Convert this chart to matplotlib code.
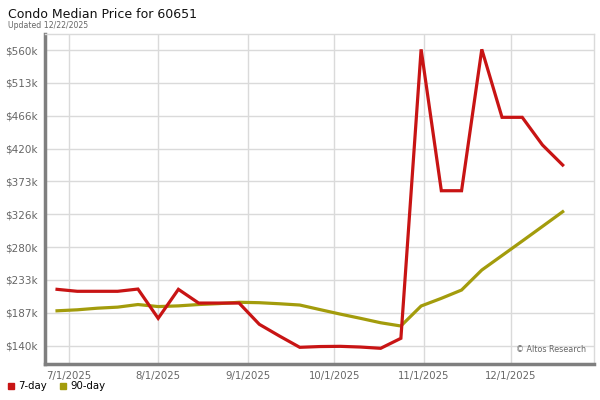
import pandas as pd
import numpy as np
import matplotlib
matplotlib.use('Agg')
import matplotlib.pyplot as plt
import matplotlib.dates as mdates

# weekly points (values in $k)
dates = pd.date_range('2025-06-27', '2025-12-19', freq='7D')
price_7day = [220.0, 217.2, 217.2, 217.2, 220.4, 178.8, 220.0, 200.5, 200.5, 200.5,
              170.3, 153.6, 137.6, 138.7, 139.0, 138.0, 136.2, 150.4, 561.0, 360.1,
              360.1, 561.0, 464.4, 464.4, 425.1, 396.6]
price_90day = [189.5, 190.9, 193.2, 194.7, 198.4, 195.5, 196.5, 198.4, 199.7, 201.6,
               201.0, 199.5, 197.7, 191.2, 184.8, 178.8, 172.5, 167.9, 196.3, 207.2,
               219.0, 247.4, 268.0, 288.6, 309.4, 330.3]

y_ticks = [140, 186.67, 233.33, 280, 326.67, 373.33, 420, 466.67, 513.33, 560]
y_labels = ['$140k', '$187k', '$233k', '$280k', '$326k', '$373k', '$420k', '$466k', '$513k', '$560k']
x_ticks = pd.to_datetime(['2025-07-01', '2025-08-01', '2025-09-01', '2025-10-01', '2025-11-01', '2025-12-01'])
x_labels = ['7/1/2025', '8/1/2025', '9/1/2025', '10/1/2025', '11/1/2025', '12/1/2025']

red = '#c81414'
olive = '#a39c0c'
axis_gray = '#7f7f7f'
text_gray = '#666666'

fig = plt.figure(figsize=(6, 4), dpi=100)
ax = fig.add_axes([0.075, 0.09, 0.915, 0.825])

ax.plot(dates, price_90day, color=olive, lw=2.3, solid_joinstyle='miter', zorder=3)
ax.plot(dates, price_7day, color=red, lw=2.3, solid_joinstyle='miter', zorder=4)

ax.set_ylim(113.9, 582.8)
ax.set_xlim(pd.Timestamp('2025-06-22 20:00'), pd.Timestamp('2025-12-29 20:00'))
ax.set_yticks(y_ticks)
ax.set_yticklabels(y_labels)
ax.set_xticks(x_ticks)
ax.set_xticklabels(x_labels)
ax.tick_params(axis='both', length=0, colors=text_gray)
ax.tick_params(axis='y', pad=5, labelsize=7.5)
ax.tick_params(axis='x', pad=5, labelsize=7.3)

ax.grid(True, color='#dadada', lw=1)
ax.set_axisbelow(True)
for s in ['top', 'right']:
    ax.spines[s].set_color('#dadada')
    ax.spines[s].set_linewidth(1)
for s in ['left', 'bottom']:
    ax.spines[s].set_color(axis_gray)
    ax.spines[s].set_linewidth(2.5)

ax.text(0.985, 0.03, '\u00a9 Altos Research', transform=ax.transAxes,
        ha='right', va='bottom', fontsize=5.8, color=text_gray)

fig.text(0.013, 0.955, 'Condo Median Price for 60651', fontsize=9, color='#111111')
fig.text(0.013, 0.93, 'Updated 12/22/2025', fontsize=5.6, color=text_gray)

# legend along the bottom
fig.patches.append(plt.Rectangle((0.013, 0.028), 0.01, 0.015, color=red, transform=fig.transFigure))
fig.text(0.03, 0.035, '7-day', fontsize=7.3, va='center')
fig.patches.append(plt.Rectangle((0.1, 0.028), 0.01, 0.015, color=olive, transform=fig.transFigure))
fig.text(0.118, 0.035, '90-day', fontsize=7.3, va='center')

fig.savefig('out.png', dpi=100)
